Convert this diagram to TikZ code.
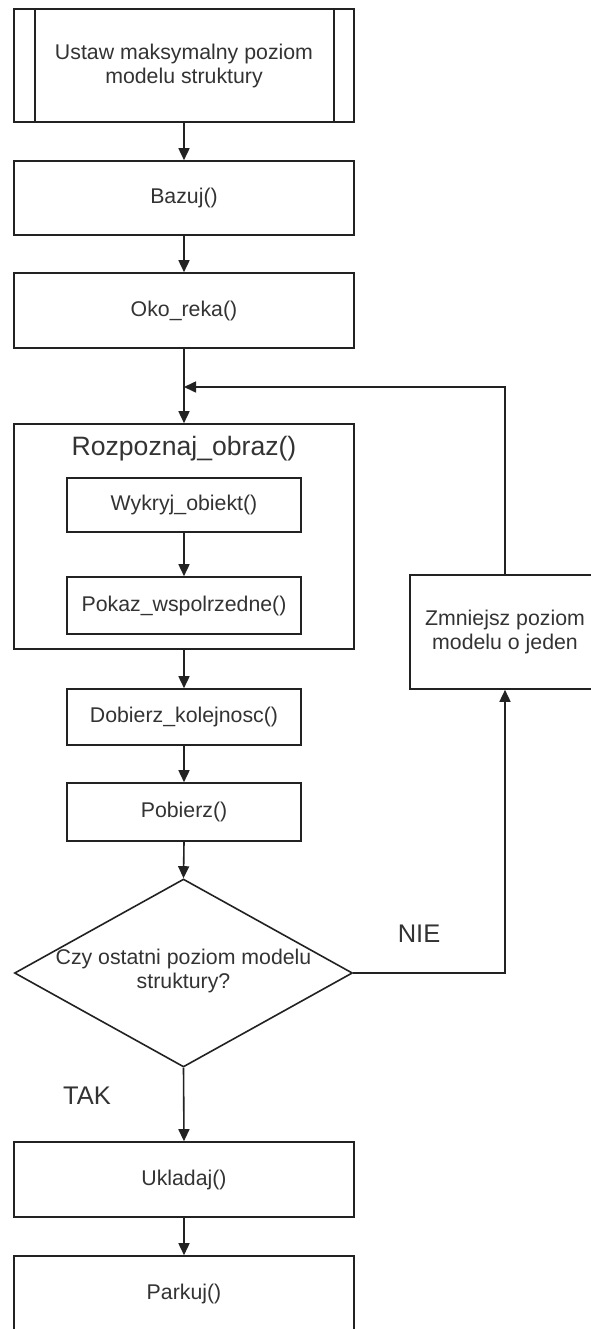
\documentclass[tikz,border=0pt]{standalone}
\usepackage{fontspec}
\setmainfont{Liberation Sans}
\usetikzlibrary{arrows.meta,shapes.geometric}
\definecolor{ink}{HTML}{222222}
\definecolor{txt}{HTML}{333333}
\begin{document}
\begin{tikzpicture}[x=1pt,y=-1pt,
  every node/.style={text=txt,font=\fontsize{21.3}{24}\selectfont},
  box/.style={draw=ink,line width=1.6pt,rectangle,inner sep=0pt,align=center},
  mainbox/.style={box,minimum width=340pt},
  subbox/.style={box,minimum width=234pt},
  flow/.style={draw=ink,line width=1.6pt,-{Triangle[length=12pt,width=11pt]}},
  link/.style={draw=ink,line width=1.6pt},
  lbl/.style={font=\fontsize{25.5}{28}\selectfont}]
\useasboundingbox (0,0) rectangle (590,1329);
\fill[white] (0,0) rectangle (590,1329);

% predefined process at the top
\node[mainbox,minimum height=113pt] (start) at (184,65.5)
  {Ustaw maksymalny poziom\\modelu struktury};
\draw[link] ([xshift=22pt]start.north west) -- ([xshift=22pt]start.south west);
\draw[link] ([xshift=-21pt]start.north east) -- ([xshift=-21pt]start.south east);

\node[mainbox,minimum height=74pt] (bazuj) at (184,198) {Bazuj()};
\node[mainbox,minimum height=75pt] (oko) at (184,310.5) {Oko\_reka()};

% image recognition block with two sub-steps
\node[mainbox,minimum height=225pt] (rozp) at (184,536.5) {};
\node[font=\fontsize{26.6}{30}\selectfont] (rozpt) at (184,449) {Rozpoznaj\_obraz()};
\node[subbox,minimum height=54pt] (wykryj) at (184,505) {Wykryj\_obiekt()};
\node[subbox,minimum height=57pt] (pokaz) at (184,605.5) {Pokaz\_wspolrzedne()};

\node[subbox,minimum height=56pt] (dobierz) at (184,717) {Dobierz\_kolejnosc()};
\node[subbox,minimum height=58pt] (pobierz) at (184,812) {Pobierz()};

% decision
\node[diamond,draw=ink,line width=1.6pt,inner sep=0pt,aspect=1.8,
      minimum width=338pt,minimum height=188pt] (dec) at (183.5,973) {};
\node[align=center] (dect) at (183.5,971) {Czy ostatni poziom modelu\\struktury?};

\node[mainbox,minimum height=75pt] (ukladaj) at (184,1179.5) {Ukladaj()};
\node[mainbox,minimum height=75pt] (parkuj) at (184,1293.5) {Parkuj()};

% loop-back step
\node[box,minimum width=190pt,minimum height=114pt] (zmn) at (505,632)
  {Zmniejsz poziom\\modelu o jeden};

\node[lbl] (nie) at (419,934) {NIE};
\node[lbl] (tak) at (87,1096) {TAK};

\coordinate (join) at (184,387);
\coordinate (turn) at (505,387);
\coordinate (back) at (505,973);

% connectors
\draw[flow] (start.south) -- (bazuj.north);
\draw[flow] (bazuj.south) -- (oko.north);
\draw[flow] (oko.south) -- (rozp.north);
\draw[flow] (wykryj.south) -- (pokaz.north);
\draw[flow] (rozp.south) -- (dobierz.north);
\draw[flow] (dobierz.south) -- (pobierz.north);
\draw[flow] (pobierz.south) -- (dec.north);
\draw[flow] (dec.south) -- (ukladaj.north);
\draw[flow] (ukladaj.south) -- (parkuj.north);
\draw[flow] (dec.east) -- (back) -- (zmn.south);
\draw[flow] (zmn.north) -- (turn) -- (join);
\end{tikzpicture}
\end{document}
